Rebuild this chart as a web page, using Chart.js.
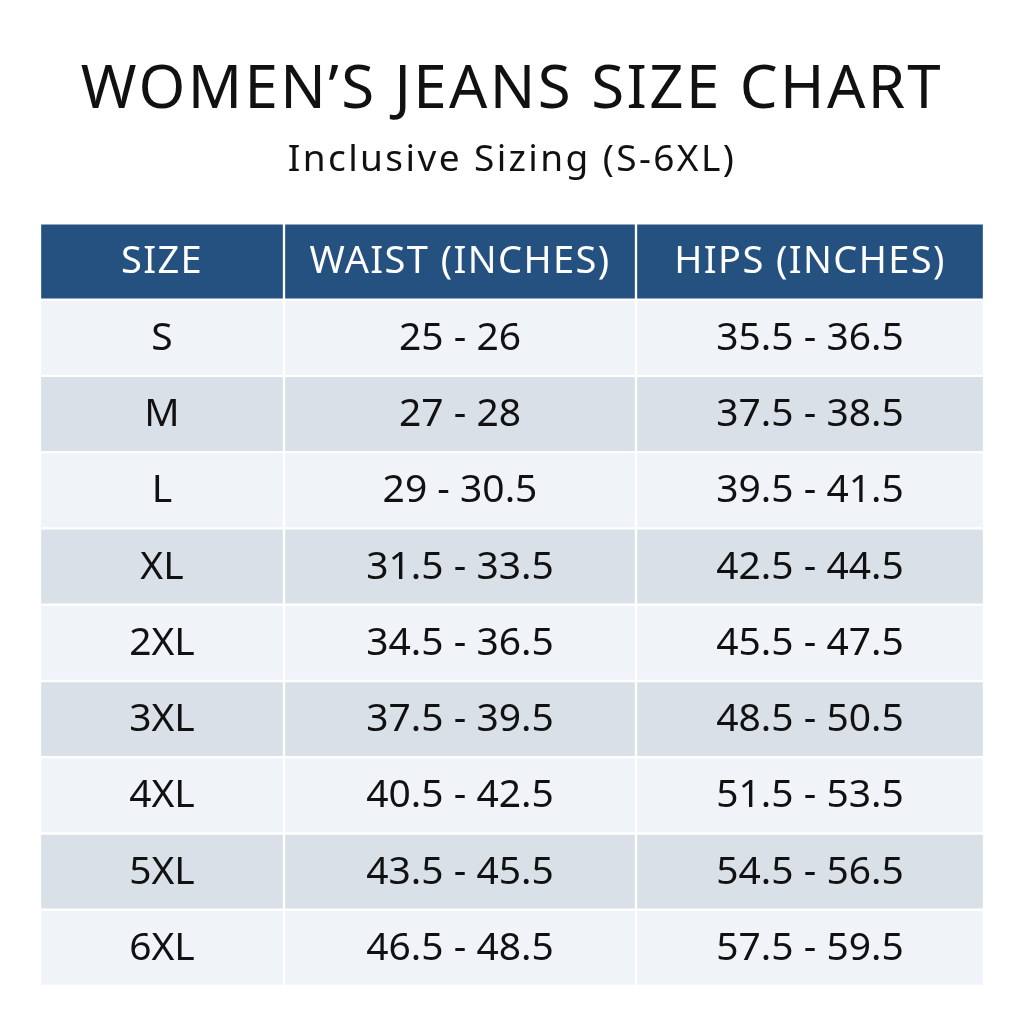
<!DOCTYPE html>
<html>
<head>
<meta charset="utf-8">
<title>Women's Jeans Size Chart</title>
<script src="https://cdn.jsdelivr.net/npm/chart.js@4.4.1/dist/chart.umd.min.js"></script>
<style>
  html, body { margin: 0; padding: 0; background: #ffffff; }
  #wrap { width: 1024px; height: 1024px; }
</style>
</head>
<body>
<div id="wrap"><canvas id="sizeChart" width="1024" height="1024"></canvas></div>
<script>
  // table content
  const headers = ["SIZE", "WAIST (INCHES)", "HIPS (INCHES)"];
  const sizes = ["S", "M", "L", "XL", "2XL", "3XL", "4XL", "5XL", "6XL"];
  const waistMin = [25, 27, 29, 31.5, 34.5, 37.5, 40.5, 43.5, 46.5];
  const waistMax = [26, 28, 30.5, 33.5, 36.5, 39.5, 42.5, 45.5, 48.5];
  const hipsMin = [35.5, 37.5, 39.5, 42.5, 45.5, 48.5, 51.5, 54.5, 57.5];
  const hipsMax = [36.5, 38.5, 41.5, 44.5, 47.5, 50.5, 53.5, 56.5, 59.5];

  // layout: column edges on the x scale (table is 944 units wide)
  const COL_EDGES = [0, 244, 596, 944];
  const FONT = "'Noto Sans', 'Open Sans', sans-serif";
  const HEADER_BG = "#245180";
  const ROW_LIGHT = "#f0f3f7";
  const ROW_DARK = "#d9e0e8";

  const range = (a, b) => `${a} - ${b}`;
  const rowKeys = ["header", ...sizes];

  const columns = [
    [headers[0], ...sizes],
    [headers[1], ...waistMin.map((v, i) => range(v, waistMax[i]))],
    [headers[2], ...hipsMin.map((v, i) => range(v, hipsMax[i]))],
  ];

  const rowColors = rowKeys.map((_, i) => (i === 0 ? HEADER_BG : i % 2 ? ROW_LIGHT : ROW_DARK));

  const datasets = columns.map((texts, c) => ({
    label: headers[c],
    texts,
    data: rowKeys.map(() => [COL_EDGES[c], COL_EDGES[c + 1]]),
    backgroundColor: rowColors,
    borderColor: "#ffffff",
    borderWidth: 1.5,
    borderSkipped: false,
    barPercentage: 1,
    categoryPercentage: 1,
    grouped: false,
  }));

  // titles are drawn by the title/subtitle plugins; widen their tracking a bit
  const tracking = {
    id: "tracking",
    beforeDraw(chart) {
      chart.ctx.letterSpacing = "2.4px";
    },
    beforeDatasetsDraw(chart) {
      chart.ctx.letterSpacing = "0px";
    },
  };

  const cellText = {
    id: "cellText",
    afterDatasetsDraw(chart) {
      const ctx = chart.ctx;
      chart.data.datasets.forEach((ds, i) => {
        chart.getDatasetMeta(i).data.forEach((bar, j) => {
          const p = bar.getCenterPoint();
          ctx.save();
          ctx.font = `400 ${j === 0 ? 38 : 39}px ${FONT}`;
          ctx.letterSpacing = j === 0 ? "1.4px" : "0px";
          ctx.fillStyle = j === 0 ? "#ffffff" : "#111111";
          ctx.textAlign = "center";
          ctx.textBaseline = "middle";
          ctx.fillText(ds.texts[j], p.x, p.y + 1);
          ctx.restore();
        });
      });
    },
  };

  new Chart(document.getElementById("sizeChart"), {
    type: "bar",
    data: { labels: rowKeys, datasets },
    plugins: [tracking, cellText],
    options: {
      indexAxis: "y",
      responsive: false,
      animation: false,
      events: [],
      layout: { padding: { left: 40, right: 40, top: 0, bottom: 38 } },
      scales: {
        x: { type: "linear", min: COL_EDGES[0], max: COL_EDGES[COL_EDGES.length - 1], display: false },
        y: { type: "category", display: false },
      },
      plugins: {
        legend: { display: false },
        tooltip: { enabled: false },
        title: {
          display: true,
          text: "WOMEN\u2019S JEANS SIZE CHART",
          color: "#111111",
          font: { family: FONT, size: 60, weight: "400", lineHeight: 1.2 },
          padding: { top: 55, bottom: 0 },
        },
        subtitle: {
          display: true,
          text: "Inclusive Sizing (S-6XL)",
          color: "#111111",
          font: { family: FONT, size: 37, weight: "400", lineHeight: 1.2 },
          padding: { top: 11, bottom: 41 },
        },
      },
    },
  });
</script>
</body>
</html>
